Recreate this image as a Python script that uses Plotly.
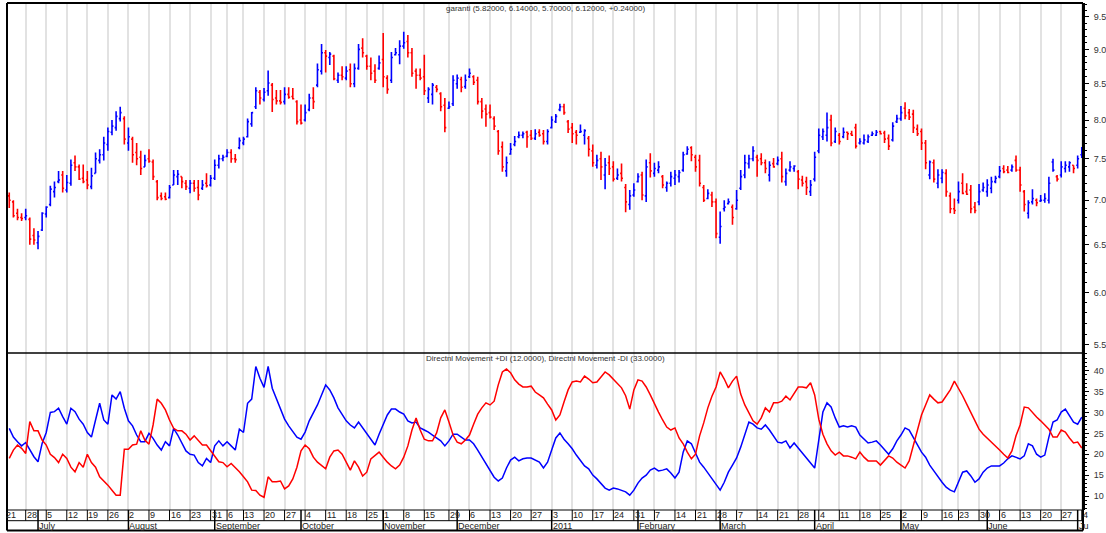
import math
import pandas as pd
import plotly.graph_objects as go

BLUE = "#0000ff"
RED = "#ff0000"

# exchange closed on these weekdays inside the chart window
holidays = ["2010-08-30", "2010-09-10", "2010-10-29", "2010-11-16", "2010-11-17",
            "2010-11-18", "2010-11-19", "2011-05-19"]

month_names = ["", "January", "February", "March", "April", "May", "June", "July",
               "August", "September", "October", "November", "December"]

opens = [
    7.05, 6.98, 6.85, 6.80, 6.80, 6.78, 6.60, 6.52, 6.66, 6.84,
    6.95, 7.10, 7.22, 7.30, 7.12, 7.20, 7.45, 7.40, 7.26, 7.24,
    7.16, 7.32, 7.48, 7.55, 7.68, 7.84, 7.90, 8.02, 8.02, 7.70,
    7.75, 7.58, 7.52, 7.40, 7.50, 7.46, 7.22, 7.05, 7.04, 7.03,
    7.18, 7.28, 7.28, 7.20, 7.14, 7.20, 7.15, 7.14, 7.20, 7.18,
    7.26, 7.42, 7.50, 7.53, 7.58, 7.50, 7.64, 7.70, 7.78, 7.95,
    8.18, 8.38, 8.28, 8.40, 8.48, 8.30, 8.26, 8.25, 8.35, 8.32,
    8.25, 8.00, 8.00, 8.14, 8.30, 8.48, 8.68, 8.95, 8.88, 8.90,
    8.55, 8.62, 8.58, 8.70, 8.50, 8.72, 9.02, 8.90, 8.75, 8.68,
    8.72, 8.85, 8.58, 8.55, 8.92, 8.92, 9.05, 9.12, 8.95, 8.68,
    8.62, 8.60, 8.30, 8.35, 8.45, 8.36, 8.20, 8.16, 8.22, 8.50,
    8.56, 8.46, 8.60, 8.60, 8.55, 8.25, 8.15, 8.10, 8.02, 7.85,
    7.65, 7.35, 7.56, 7.68, 7.78, 7.80, 7.84, 7.80, 7.76, 7.84,
    7.82, 7.72, 7.90, 7.98, 8.14, 8.18, 7.98, 7.90, 7.84, 7.84,
    7.80, 7.76, 7.60, 7.42, 7.50, 7.30, 7.45, 7.40, 7.26, 7.32,
    7.15, 6.95, 7.06, 7.22, 7.30, 7.05, 7.45, 7.32, 7.36, 7.28,
    7.15, 7.20, 7.26, 7.28, 7.36, 7.56, 7.64, 7.52, 7.48, 7.15,
    7.02, 7.06, 6.98, 6.58, 6.90, 6.96, 6.92, 6.90, 7.14, 7.30,
    7.44, 7.50, 7.52, 7.50, 7.45, 7.30, 7.44, 7.44, 7.50, 7.22,
    7.36, 7.38, 7.34, 7.24, 7.22, 7.10, 7.25, 7.60, 7.78, 7.80,
    8.00, 7.72, 7.80, 7.78, 7.84, 7.82, 7.90, 7.70, 7.70, 7.72,
    7.80, 7.80, 7.85, 7.83, 7.76, 7.74, 7.98, 8.02, 8.16, 8.10,
    8.08, 7.88, 7.85, 7.70, 7.30, 7.45, 7.20, 7.26, 7.32, 7.05,
    6.90, 7.00, 7.20, 7.10, 7.12, 6.92, 6.98, 7.12, 7.10, 7.14,
    7.22, 7.28, 7.38, 7.36, 7.36, 7.48, 7.36, 7.10, 6.85, 6.98,
    7.00, 6.99, 7.00, 7.00, 7.46, 7.28, 7.30, 7.38, 7.40, 7.42,
    7.42, 7.55,
]

highs = [
    7.09, 7.00, 6.90, 6.85, 6.90, 6.80, 6.68, 6.65, 6.86, 6.93,
    7.17, 7.22, 7.35, 7.35, 7.30, 7.49, 7.54, 7.43, 7.43, 7.35,
    7.39, 7.58, 7.62, 7.78, 7.90, 8.00, 8.12, 8.18, 8.05, 7.90,
    7.78, 7.70, 7.60, 7.55, 7.62, 7.49, 7.24, 7.09, 7.09, 7.18,
    7.36, 7.36, 7.28, 7.24, 7.24, 7.24, 7.24, 7.24, 7.32, 7.30,
    7.49, 7.55, 7.55, 7.62, 7.62, 7.56, 7.77, 7.78, 8.02, 8.11,
    8.45, 8.41, 8.44, 8.69, 8.51, 8.41, 8.41, 8.45, 8.45, 8.44,
    8.27, 8.21, 8.21, 8.36, 8.45, 8.79, 9.08, 8.99, 8.96, 8.92,
    8.66, 8.75, 8.75, 8.79, 8.79, 9.08, 9.17, 8.92, 8.88, 8.78,
    8.91, 9.25, 8.62, 8.96, 9.02, 9.14, 9.27, 9.22, 9.02, 8.72,
    8.72, 8.92, 8.45, 8.51, 8.48, 8.38, 8.30, 8.25, 8.62, 8.63,
    8.60, 8.63, 8.72, 8.62, 8.60, 8.30, 8.21, 8.21, 8.05, 7.87,
    7.72, 7.53, 7.70, 7.79, 7.85, 7.85, 7.86, 7.87, 7.88, 7.88,
    7.87, 7.88, 8.05, 8.08, 8.22, 8.22, 8.00, 7.96, 7.87, 7.94,
    7.88, 7.79, 7.68, 7.55, 7.59, 7.51, 7.54, 7.47, 7.38, 7.44,
    7.19, 7.12, 7.20, 7.32, 7.34, 7.49, 7.57, 7.45, 7.47, 7.30,
    7.22, 7.34, 7.36, 7.36, 7.59, 7.66, 7.66, 7.55, 7.55, 7.18,
    7.13, 7.10, 7.02, 6.87, 7.00, 7.02, 6.95, 7.12, 7.36, 7.55,
    7.55, 7.66, 7.55, 7.57, 7.49, 7.47, 7.51, 7.53, 7.59, 7.38,
    7.47, 7.42, 7.36, 7.29, 7.28, 7.24, 7.59, 7.89, 7.89, 8.10,
    8.07, 7.90, 7.83, 7.90, 7.85, 7.86, 7.95, 7.76, 7.81, 7.81,
    7.85, 7.87, 7.86, 7.86, 7.81, 7.97, 8.07, 8.19, 8.24, 8.15,
    8.14, 7.94, 7.89, 7.74, 7.48, 7.49, 7.37, 7.37, 7.37, 7.09,
    7.02, 7.22, 7.32, 7.20, 7.18, 6.98, 7.19, 7.21, 7.25, 7.28,
    7.29, 7.41, 7.42, 7.41, 7.43, 7.54, 7.40, 7.12, 7.00, 7.13,
    7.02, 7.06, 7.08, 7.28, 7.50, 7.30, 7.47, 7.47, 7.47, 7.42,
    7.54, 7.65,
]

lows = [
    6.91, 6.80, 6.77, 6.76, 6.77, 6.50, 6.50, 6.45, 6.65, 6.80,
    6.93, 7.03, 7.20, 7.09, 7.09, 7.17, 7.35, 7.24, 7.20, 7.13,
    7.13, 7.32, 7.44, 7.48, 7.60, 7.80, 7.86, 7.98, 7.68, 7.60,
    7.45, 7.42, 7.30, 7.40, 7.45, 7.24, 7.00, 7.00, 7.00, 7.02,
    7.18, 7.18, 7.14, 7.12, 7.08, 7.10, 7.00, 7.12, 7.15, 7.16,
    7.24, 7.38, 7.47, 7.52, 7.45, 7.45, 7.62, 7.67, 7.77, 7.91,
    8.15, 8.21, 8.25, 8.33, 8.11, 8.21, 8.21, 8.21, 8.29, 8.28,
    7.94, 7.94, 7.98, 8.12, 8.15, 8.45, 8.63, 8.66, 8.77, 8.55,
    8.51, 8.55, 8.55, 8.45, 8.45, 8.70, 8.88, 8.70, 8.55, 8.51,
    8.70, 8.45, 8.36, 8.51, 8.91, 8.78, 9.01, 8.88, 8.60, 8.43,
    8.55, 8.34, 8.23, 8.21, 8.38, 8.12, 7.84, 8.15, 8.19, 8.43,
    8.38, 8.43, 8.58, 8.48, 8.21, 8.02, 7.91, 8.02, 7.87, 7.55,
    7.34, 7.28, 7.55, 7.66, 7.76, 7.76, 7.64, 7.74, 7.74, 7.78,
    7.68, 7.68, 7.89, 7.96, 8.12, 8.07, 7.83, 7.70, 7.68, 7.83,
    7.68, 7.53, 7.40, 7.38, 7.24, 7.13, 7.30, 7.22, 7.24, 7.22,
    6.86, 6.89, 7.04, 7.21, 7.00, 6.98, 7.27, 7.28, 7.32, 7.14,
    7.10, 7.16, 7.18, 7.21, 7.34, 7.55, 7.47, 7.34, 7.16, 6.98,
    7.01, 6.92, 6.57, 6.51, 6.87, 6.95, 6.72, 6.89, 7.12, 7.26,
    7.38, 7.47, 7.28, 7.42, 7.32, 7.22, 7.39, 7.42, 7.21, 7.17,
    7.34, 7.34, 7.13, 7.16, 7.06, 7.05, 7.22, 7.57, 7.74, 7.72,
    7.66, 7.70, 7.68, 7.76, 7.74, 7.79, 7.63, 7.68, 7.68, 7.70,
    7.79, 7.79, 7.81, 7.70, 7.61, 7.72, 7.96, 7.99, 8.01, 8.00,
    7.83, 7.79, 7.61, 7.37, 7.25, 7.21, 7.14, 7.20, 7.04, 6.85,
    6.84, 6.96, 7.07, 7.06, 6.85, 6.85, 6.94, 7.10, 7.04, 7.08,
    7.20, 7.26, 7.32, 7.32, 7.34, 7.34, 7.10, 6.87, 6.79, 6.95,
    6.93, 6.98, 6.97, 6.96, 7.34, 7.22, 7.27, 7.33, 7.34, 7.32,
    7.38, 7.51,
]

closes = [
    7.00, 6.82, 6.80, 6.79, 6.82, 6.56, 6.55, 6.59, 6.85, 6.92,
    7.13, 7.15, 7.24, 7.14, 7.21, 7.42, 7.40, 7.25, 7.22, 7.18,
    7.29, 7.50, 7.55, 7.70, 7.85, 7.92, 8.05, 8.10, 7.75, 7.78,
    7.55, 7.50, 7.38, 7.48, 7.47, 7.28, 7.03, 7.02, 7.01, 7.15,
    7.30, 7.31, 7.22, 7.16, 7.20, 7.14, 7.06, 7.18, 7.17, 7.26,
    7.42, 7.50, 7.52, 7.58, 7.50, 7.49, 7.73, 7.75, 7.98, 8.10,
    8.40, 8.30, 8.38, 8.51, 8.28, 8.26, 8.24, 8.35, 8.31, 8.29,
    7.98, 7.96, 8.10, 8.30, 8.25, 8.70, 8.95, 8.90, 8.93, 8.57,
    8.62, 8.60, 8.68, 8.50, 8.72, 9.00, 8.95, 8.75, 8.65, 8.55,
    8.80, 8.60, 8.42, 8.88, 8.95, 9.05, 9.10, 8.95, 8.65, 8.62,
    8.58, 8.40, 8.42, 8.48, 8.42, 8.18, 7.90, 8.18, 8.55, 8.58,
    8.45, 8.55, 8.65, 8.52, 8.25, 8.12, 8.08, 8.04, 7.92, 7.60,
    7.40, 7.45, 7.62, 7.72, 7.80, 7.82, 7.78, 7.76, 7.82, 7.80,
    7.72, 7.85, 8.00, 8.05, 8.18, 8.10, 7.88, 7.82, 7.80, 7.85,
    7.86, 7.62, 7.45, 7.48, 7.40, 7.42, 7.38, 7.25, 7.30, 7.26,
    6.98, 7.05, 7.12, 7.28, 7.06, 7.40, 7.35, 7.38, 7.40, 7.18,
    7.20, 7.28, 7.30, 7.33, 7.55, 7.62, 7.55, 7.40, 7.20, 7.00,
    7.08, 6.98, 6.62, 6.70, 6.92, 6.98, 6.80, 7.00, 7.28, 7.45,
    7.50, 7.60, 7.48, 7.45, 7.38, 7.42, 7.40, 7.48, 7.28, 7.32,
    7.40, 7.41, 7.25, 7.20, 7.15, 7.18, 7.52, 7.80, 7.85, 7.90,
    7.70, 7.85, 7.72, 7.84, 7.82, 7.80, 7.66, 7.72, 7.74, 7.78,
    7.82, 7.84, 7.82, 7.75, 7.66, 7.92, 8.02, 8.10, 8.06, 8.04,
    7.90, 7.82, 7.70, 7.45, 7.46, 7.25, 7.30, 7.33, 7.10, 6.90,
    6.88, 7.10, 7.08, 7.07, 6.90, 6.88, 7.10, 7.15, 7.18, 7.22,
    7.26, 7.35, 7.34, 7.33, 7.40, 7.36, 7.18, 6.95, 6.97, 7.02,
    6.97, 7.00, 7.02, 7.20, 7.36, 7.25, 7.40, 7.42, 7.45, 7.38,
    7.50, 7.60,
]

plus_di = [
    26.2, 24.1, 23.0, 22.0, 22.8, 21.2, 19.4, 18.2, 22.6, 25.2,
    30.0, 30.2, 31.0, 29.0, 27.2, 31.0, 30.2, 28.4, 27.2, 25.2,
    24.1, 28.2, 32.2, 28.2, 27.2, 34.2, 33.2, 35.0, 31.0, 28.0,
    26.8, 24.6, 23.0, 23.0, 25.0, 23.8, 22.2, 21.0, 23.0, 22.0,
    26.2, 24.6, 22.6, 20.8, 20.0, 19.8, 18.0, 17.2, 19.0, 18.0,
    22.0, 23.2, 22.0, 23.0, 22.0, 21.0, 26.0, 25.2, 32.2, 33.2,
    41.0, 38.2, 36.0, 41.0, 35.8, 33.2, 30.5, 28.4, 26.8, 25.3,
    24.1, 23.6, 25.3, 28.0, 29.9, 31.8, 34.2, 36.6, 35.4, 33.5,
    31.1, 29.4, 28.0, 27.0, 26.3, 27.7, 26.3, 24.8, 23.6, 22.2,
    24.8, 27.2, 29.4, 30.8, 30.8, 30.1, 29.6, 28.0, 27.5, 27.7,
    26.3, 25.8, 25.3, 24.6, 23.9, 23.2, 22.0, 23.2, 24.8, 24.8,
    24.1, 23.4, 23.4, 22.5, 21.0, 19.3, 17.6, 16.2, 14.5, 13.6,
    14.3, 16.7, 18.6, 19.3, 18.4, 18.9, 19.1, 19.1, 18.6, 18.1,
    16.7, 18.1, 21.0, 23.9, 25.1, 23.6, 22.5, 21.3, 19.8, 18.4,
    17.2, 16.5, 15.0, 14.1, 13.1, 11.9, 11.4, 11.9, 11.7, 11.4,
    11.0, 10.2, 11.4, 13.1, 14.3, 15.0, 16.2, 16.7, 16.0, 16.2,
    16.5, 15.5, 14.3, 15.7, 20.5, 23.2, 22.5, 20.3, 18.1, 16.9,
    15.5, 14.1, 12.6, 11.4, 13.3, 15.7, 17.4, 19.1, 21.7, 24.6,
    27.7, 27.2, 26.3, 26.0, 27.0, 25.8, 24.4, 22.9, 22.7, 23.2,
    21.5, 22.7, 21.5, 20.3, 19.1, 17.9, 16.7, 23.4, 30.1, 32.3,
    31.3, 28.7, 26.5, 26.8, 26.5, 26.8, 26.5, 24.6, 23.6, 22.7,
    22.9, 23.2, 22.2, 21.0, 20.0, 21.3, 23.2, 24.6, 26.3, 25.8,
    24.1, 22.2, 20.5, 19.3, 17.4, 16.0, 14.5, 13.3, 12.1, 11.4,
    11.0, 13.3, 15.7, 16.0, 14.8, 13.3, 14.1, 15.7, 16.7, 17.2,
    17.2, 17.2, 17.9, 18.9, 19.6, 19.3, 18.9, 19.6, 22.5, 22.0,
    20.0, 19.3, 19.8, 24.1, 27.7, 28.2, 30.1, 30.8, 29.2, 27.7,
    27.2, 28.9,
]

minus_di = [
    19.0, 21.0, 22.2, 21.4, 20.2, 27.8, 25.6, 25.6, 23.4, 22.2,
    20.0, 19.2, 18.0, 20.0, 19.0, 16.9, 15.8, 18.0, 16.9, 20.0,
    18.0, 16.9, 14.6, 13.7, 12.6, 11.4, 10.2, 10.2, 21.2, 21.2,
    22.2, 22.4, 25.6, 23.4, 22.4, 27.0, 33.2, 32.2, 30.6, 28.2,
    26.2, 25.6, 25.6, 24.8, 23.4, 24.4, 23.2, 22.2, 22.2, 20.8,
    19.4, 18.2, 18.0, 17.0, 17.8, 16.9, 15.8, 14.6, 13.4, 11.4,
    11.3, 10.2, 9.7, 14.6, 13.4, 13.4, 13.6, 11.7, 12.4, 14.1,
    16.9, 20.8, 22.2, 21.3, 19.3, 18.1, 17.2, 16.5, 19.3, 20.8,
    21.0, 20.0, 18.1, 16.2, 18.4, 16.9, 14.8, 15.7, 18.9, 19.8,
    20.5, 19.3, 18.1, 17.2, 16.5, 17.4, 19.3, 22.0, 25.8, 28.7,
    25.8, 23.6, 23.2, 23.2, 25.1, 28.7, 30.6, 27.7, 24.6, 22.9,
    22.5, 23.4, 24.6, 27.2, 29.6, 31.1, 32.3, 31.8, 32.7, 36.6,
    39.7, 40.4, 39.5, 37.8, 36.8, 36.1, 36.1, 36.3, 34.9, 34.2,
    33.5, 32.0, 30.6, 28.2, 29.4, 32.5, 35.4, 37.3, 37.5, 37.3,
    38.7, 38.0, 37.1, 37.3, 38.5, 39.7, 39.0, 38.0, 37.1, 35.9,
    34.0, 30.8, 35.4, 37.8, 37.5, 36.1, 34.2, 32.0, 30.1, 28.2,
    26.5, 25.8, 26.3, 23.9, 22.5, 20.5, 18.9, 20.0, 24.4, 27.5,
    31.1, 33.9, 36.1, 39.7, 38.0, 35.9, 37.5, 38.7, 34.4, 31.8,
    29.9, 28.0, 27.2, 28.7, 31.1, 30.1, 32.3, 32.3, 32.7, 33.9,
    33.0, 34.7, 36.1, 36.1, 35.9, 37.1, 34.2, 28.4, 24.8, 22.5,
    20.8, 19.8, 20.5, 19.6, 19.6, 19.3, 18.9, 20.5, 19.3, 18.4,
    18.4, 18.4, 17.4, 18.6, 19.6, 19.1, 18.1, 17.4, 16.7, 18.4,
    22.0, 25.8, 29.4, 31.8, 34.2, 33.2, 32.3, 32.5, 33.9, 35.4,
    37.5, 35.9, 34.0, 32.0, 30.1, 28.2, 26.0, 24.8, 23.9, 22.9,
    22.0, 21.0, 20.0, 19.1, 20.8, 24.4, 27.0, 31.3, 31.1, 29.9,
    28.9, 28.0, 27.0, 26.0, 24.1, 24.1, 25.8, 25.3, 23.9, 22.7,
    22.9, 21.5,
]

price_ticks = [5.5, 6.0, 6.5, 7.0, 7.5, 8.0, 8.5, 9.0, 9.5]
di_ticks = [10, 15, 20, 25, 30, 35, 40]

# trading days; day 0 (Jun 21) is the unlabelled slot before the first bar
skip = set(pd.to_datetime(holidays))
days = [d for d in pd.bdate_range("2010-06-21", "2011-07-04") if d not in skip]
n = len(closes)
bar_x = list(range(1, n + 1))

x0, x1 = 0.45, 262.3
row1, row2 = -0.0211, -0.0404   # date row / month row bottoms (paper)
split = 0.3097


def xpaper(i):
    return (i - x0) / (x1 - x0)


# first trading day of each week, dropping a tick right after a 1-day week
weeks = []
for i, d in enumerate(days):
    if i == 0 or d.isocalendar()[:2] != days[i - 1].isocalendar()[:2]:
        if weeks and i - weeks[-1] < 3:
            continue
        weeks.append(i)
months = [i for i in range(1, len(days)) if days[i].month != days[i - 1].month]

fig = go.Figure()

up = [closes[i] >= (closes[i - 1] if i else opens[0]) for i in range(n)]
for flag, color in ((True, BLUE), (False, RED)):
    idx = [i for i in range(n) if up[i] == flag]
    fig.add_trace(go.Ohlc(
        x=[bar_x[i] for i in idx],
        open=[opens[i] for i in idx], high=[highs[i] for i in idx],
        low=[lows[i] for i in idx], close=[closes[i] for i in idx],
        increasing_line_color=color, decreasing_line_color=color,
        line_width=1.6, tickwidth=0.35, xaxis="x", yaxis="y", hoverinfo="skip",
    ))

fig.add_trace(go.Scatter(x=bar_x, y=plus_di, mode="lines", line=dict(color=BLUE, width=1.5),
                         xaxis="x", yaxis="y2", hoverinfo="skip"))
fig.add_trace(go.Scatter(x=bar_x, y=minus_di, mode="lines", line=dict(color=RED, width=1.5),
                         xaxis="x", yaxis="y2", hoverinfo="skip"))

shapes = []
annos = []
black = dict(color="black", width=1)

for i in weeks:
    if x0 < i < x1:
        shapes.append(dict(type="line", xref="paper", yref="paper", x0=xpaper(i), x1=xpaper(i),
                           y0=0, y1=row1, line=black))
    annos.append(dict(x=xpaper(i), y=row1 / 2, xref="paper", yref="paper", text=str(days[i].day),
                      xanchor="left", yanchor="middle", showarrow=False, xshift=-1))

for i in months:
    shapes.append(dict(type="line", xref="paper", yref="paper", x0=xpaper(i), x1=xpaper(i),
                       y0=0, y1=row2, line=dict(color="black", width=1.5)))
    d = days[i]
    name = str(d.year) if d.month == 1 else month_names[d.month]
    if x1 - i < 4:
        name = name[:2]
    annos.append(dict(x=xpaper(i), y=(row1 + row2) / 2, xref="paper", yref="paper", text=name,
                      xanchor="left", yanchor="middle", showarrow=False, xshift=-1))

# frame
for y, w in ((1, 2), (split, 1.5), (0, 1), (row1, 1), (row2, 2)):
    shapes.append(dict(type="line", xref="paper", yref="paper", x0=0, x1=1, y0=y, y1=y,
                       line=dict(color="black", width=w)))
for x in (0, 1):
    shapes.append(dict(type="line", xref="paper", yref="paper", x0=x, x1=x, y0=row2, y1=1,
                       line=dict(color="black", width=2)))

title_font = dict(size=8, color="#333333")
annos.append(dict(x=0.5, y=0.99, xref="paper", yref="paper", showarrow=False, font=title_font,
                  xanchor="center", yanchor="middle",
                  text="garanti (5.82000, 6.14000, 5.70000, 6.12000, +0.24000)"))
annos.append(dict(x=0.5, y=split - 0.01, xref="paper", yref="paper", showarrow=False, font=title_font,
                  xanchor="center", yanchor="middle",
                  text="Directnl Movement +DI (12.0000), Directnl Movement -DI (33.0000)"))

yaxis_common = dict(side="right", anchor="x", ticks="outside", ticklen=4, tickwidth=1,
                    tickcolor="black", showline=True, linecolor="black", linewidth=2,
                    showgrid=False, zeroline=False, ticklabelstandoff=3, automargin=False,
                    tickfont=dict(size=9, color="#333333"), fixedrange=True)

fig.update_layout(
    width=1106, height=533,
    margin=dict(l=7, r=23, t=3, b=23),
    paper_bgcolor="white", plot_bgcolor="white",
    showlegend=False,
    font=dict(family="Liberation Sans, Arial, sans-serif", size=9, color="#222222"),
    xaxis=dict(domain=[0, 1], anchor="y2", range=[x0, x1], tickmode="array", tickvals=weeks,
               showticklabels=False, ticks="", showgrid=True, gridcolor="#e2e2e2", gridwidth=1.5,
               zeroline=False, showline=False, rangeslider=dict(visible=False), fixedrange=True),
    yaxis=dict(domain=[split, 1], type="log", range=[math.log10(5.426), math.log10(9.724)],
               tickmode="array", tickvals=price_ticks, ticktext=[f"{v:.1f}" for v in price_ticks],
               minor=dict(tickmode="array", tickvals=[round(5.4 + 0.1 * k, 1) for k in range(44)],
                          ticks="outside", ticklen=2, tickcolor="black"),
               **yaxis_common),
    yaxis2=dict(domain=[0, split], range=[6.65, 44.24], tickmode="array", tickvals=di_ticks,
                minor=dict(dtick=1, ticks="outside", ticklen=2, tickcolor="black"),
                **yaxis_common),
    shapes=shapes,
    annotations=annos,
)

fig.write_html("out.html", config={"displayModeBar": False},
               post_script="document.body.style.margin='0';document.body.style.overflow='hidden';")
